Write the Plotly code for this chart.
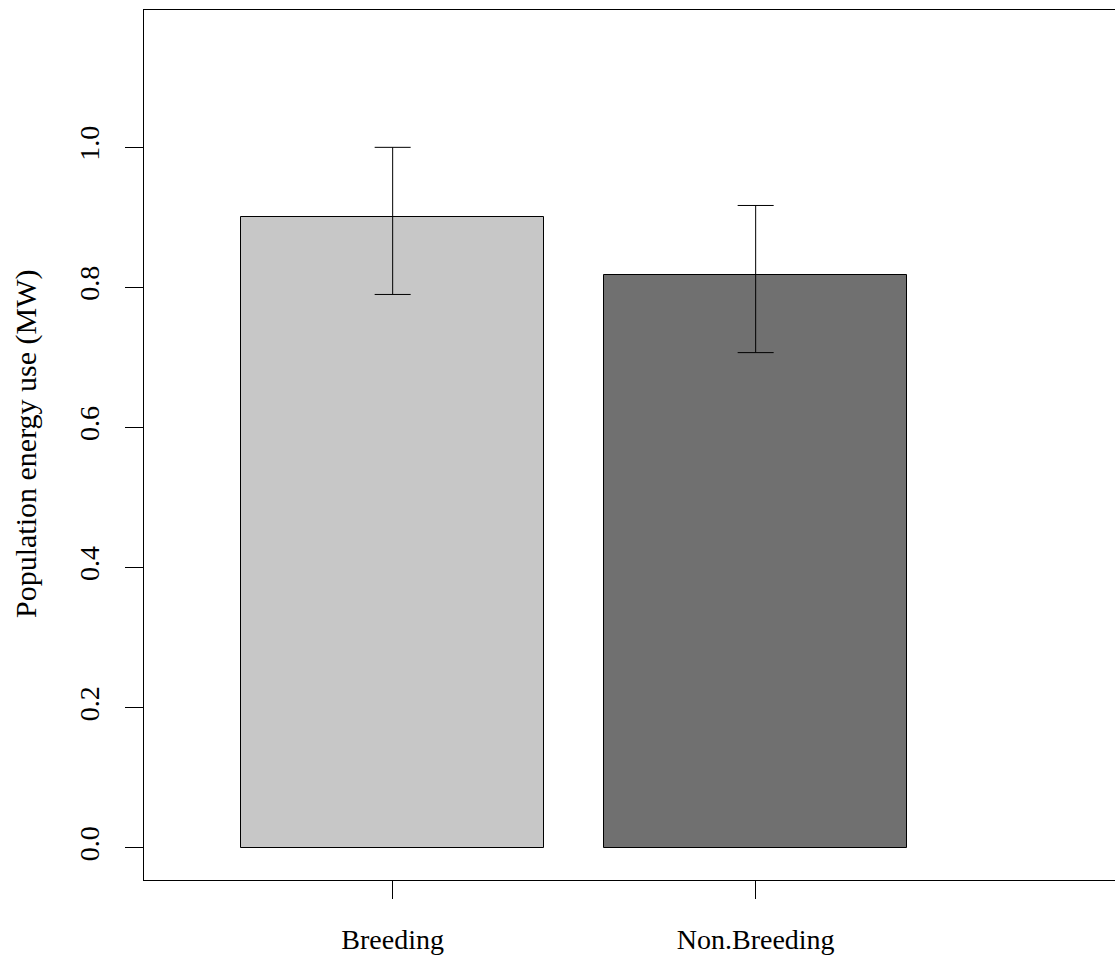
import plotly.graph_objects as go

categories = ["Breeding", "Non.Breeding"]
x_pos = [0.7, 1.9]
values = [0.901, 0.818]
upper = [1.000, 0.917]
lower = [0.790, 0.707]
y_ticks = [0.0, 0.2, 0.4, 0.6, 0.8, 1.0]
y_tick_labels = ["0.0", "0.2", "0.4", "0.6", "0.8", "1.0"]
bar_colors = ["#C7C7C7", "#707070"]

err_plus = [u - v for u, v in zip(upper, values)]
err_minus = [v - l for v, l in zip(values, lower)]

FONT = "Liberation Serif, Times New Roman, serif"

fig = go.Figure()
fig.add_trace(go.Bar(
    x=x_pos, y=values, width=1.0,
    marker=dict(color=bar_colors, line=dict(color="black", width=1)),
    error_y=dict(type="data", symmetric=False, array=err_plus, arrayminus=err_minus,
                 color="black", thickness=1, width=18),
    showlegend=False,
))

L, R, T, B = 144, 0, 10, 80
W, H = 1115, 960
plot_w = W - L - R
px_per_unit = 302.5
x0 = -0.122
x1 = x0 + plot_w / px_per_unit

fig.update_layout(
    width=W, height=H,
    margin=dict(l=L, r=R, t=T, b=B),
    paper_bgcolor="white", plot_bgcolor="white",
    font=dict(family=FONT, size=28, color="black"),
    bargap=0,
    xaxis=dict(range=[x0, x1], tickvals=x_pos, ticktext=categories,
               showgrid=False, zeroline=False, showline=True, mirror=True,
               linecolor="black", linewidth=1,
               ticks="outside", ticklen=18, tickcolor="black", tickwidth=1,
               ticklabelstandoff=16, tickfont=dict(size=28)),
    yaxis=dict(range=[-0.0457, 1.196], tickvals=y_ticks, ticktext=y_tick_labels,
               showgrid=False, zeroline=False, showline=True,
               linecolor="black", linewidth=1,
               ticks="outside", ticklen=18, tickcolor="black", tickwidth=1,
               tickangle=-90, ticklabelstandoff=15, tickfont=dict(size=28)),
    annotations=[dict(text="Population energy use (MW)", xref="paper", yref="paper",
                      x=(26 - L) / plot_w, y=(880 - 444) / 870, xanchor="center", yanchor="middle",
                      textangle=-90, showarrow=False, font=dict(size=30))],
)

fig.write_html("out.html")
